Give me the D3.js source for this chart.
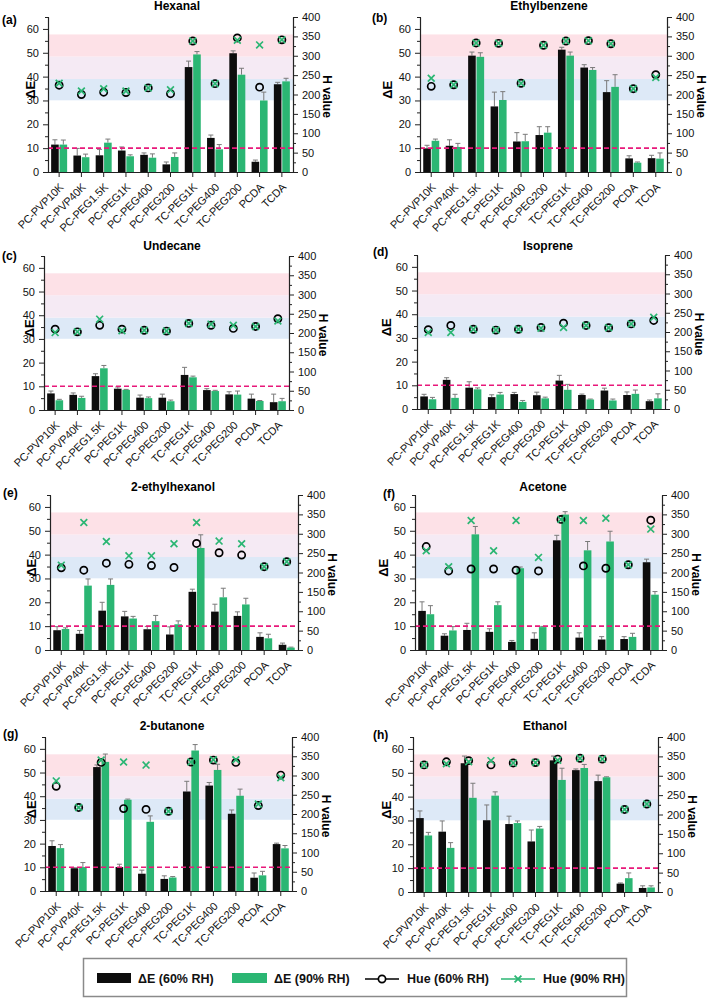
<!DOCTYPE html>
<html><head><meta charset="utf-8">
<script src="https://cdn.jsdelivr.net/npm/d3@7"></script>
<style>
body{margin:0;background:#fff;}
svg{display:block;font-family:"Liberation Sans",Arial,sans-serif;}
</style></head>
<body>
<svg id="chart" width="710" height="999"></svg>
<script>
// ---------- DATA ----------
const categories = ["PC-PVP10K","PC-PVP40K","PC-PEG1.5K","PC-PEG1K","PC-PEG400","PC-PEG200","TC-PEG1K","TC-PEG400","TC-PEG200","PCDA","TCDA"];
const deTicks = [0,10,20,30,40,50,60];
const hTicks = [0,50,100,150,200,250,300,350,400];
const thresholdDE = 10;
const hueBands = [185, 240, 298, 355];

// (a) Hexanal
const hexanalDE60  = [11.5,6.9,7.0,9.0,7.2,3.2,44.0,14.3,49.8,4.3,36.8];
const hexanalErr60 = [2.0,3.0,2.5,1.5,0.8,1.0,2.5,1.2,1.0,0.7,0.8];
const hexanalDE90  = [11.5,6.2,12.3,6.6,6.0,6.3,49.3,9.5,40.8,30.0,38.0];
const hexanalErr90 = [1.9,1.3,1.5,0.6,1.6,1.7,1.2,2.0,2.7,3.5,1.3];
const hexanalH60   = [224,200,206,205,217,202,338,228,346,219,341];
const hexanalH90   = [229,209,215,209,217,212,338,228,340,328,341];
// (b) Ethylbenzene
const ethylbenzeneDE60  = [9.9,11.0,48.8,27.5,12.8,15.5,51.3,43.8,33.5,5.7,5.8];
const ethylbenzeneErr60 = [1.3,2.5,1.5,6.0,3.7,3.5,1.0,1.2,4.8,1.1,1.2];
const ethylbenzeneDE90  = [13.1,10.5,48.3,30.2,12.9,16.5,48.8,42.8,35.7,3.9,5.6];
const ethylbenzeneErr90 = [0.7,1.5,1.7,3.5,2.9,2.5,1.5,1.0,5.1,0.3,2.4];
const ethylbenzeneH60   = [221,225,333,332,229,327,338,339,331,215,251];
const ethylbenzeneH90   = [242,225,333,332,229,327,338,339,331,215,244];
// (c) Undecane
const undecaneDE60  = [7.0,6.4,14.3,9.0,5.2,5.2,14.8,8.4,6.6,4.8,3.3];
const undecaneErr60 = [1.0,0.8,1.0,0.7,1.1,1.5,3.2,0.6,1.1,1.9,3.4];
const undecaneDE90  = [4.1,5.1,17.6,8.5,5.0,3.7,13.8,8.0,6.5,3.8,3.7];
const undecaneErr90 = [0.4,0.7,1.2,0.2,0.5,0.5,0.5,0.3,1.5,0.2,1.2];
const undecaneH60   = [210,203,220,210,207,205,225,220,212,217,237];
const undecaneH90   = [201,203,236,206,207,205,225,223,220,217,231];
// (d) Isoprene
const isopreneDE60  = [5.3,12.3,9.0,5.0,6.3,5.8,12.0,5.9,7.8,5.9,3.3];
const isopreneErr60 = [0.9,0.9,2.5,1.0,0.7,1.3,2.2,0.4,1.0,1.3,0.5];
const isopreneDE90  = [4.1,4.7,8.3,6.1,3.0,4.5,8.1,4.0,3.6,6.4,4.5];
const isopreneErr90 = [0.8,1.5,0.6,0.9,0.6,0.5,2.3,0.2,0.6,1.6,1.9];
const isopreneH60   = [206,217,207,205,207,212,223,217,211,221,230];
const isopreneH90   = [199,199,207,205,207,210,212,217,211,221,238];
// (e) 2-ethylhexanol
const ethylhexanolDE60  = [8.3,6.8,16.5,14.1,8.7,6.5,24.4,16.1,14.3,5.5,2.2];
const ethylhexanolErr60 = [1.5,1.4,3.5,2.1,1.2,3.2,1.1,3.1,1.7,1.7,0.7];
const ethylhexanolDE90  = [8.8,27.0,27.3,13.2,12.1,10.8,42.8,22.1,19.1,4.9,1.0];
const ethylhexanolErr90 = [0.5,2.8,2.5,0.9,2.4,1.4,5.5,3.8,2.6,1.7,0.2];
const ethylhexanolH60   = [212,206,224,221,218,213,275,251,245,215,228];
const ethylhexanolH90   = [219,329,280,243,243,274,329,281,274,215,228];
// (f) Acetone
const acetoneDE60  = [16.4,6.0,8.4,7.6,3.4,4.7,46.0,5.2,4.4,4.6,36.8];
const acetoneErr60 = [3.8,0.8,2.8,1.3,0.6,2.5,2.1,2.0,1.2,1.0,1.3];
const acetoneDE90  = [15.0,8.2,48.5,18.8,34.3,9.6,56.8,41.8,45.5,5.5,23.2];
const acetoneErr90 = [3.6,1.6,3.3,1.4,0.5,0.3,1.2,3.7,4.3,1.5,1.3];
const acetoneH60   = [267,204,209,209,206,204,337,217,211,220,335];
const acetoneH90   = [256,215,334,256,334,239,337,334,340,220,312];
// (g) 2-butanone
const butanoneDE60  = [19.0,9.6,52.3,10.1,7.3,5.1,42.0,44.5,32.6,5.6,19.8];
const butanoneErr60 = [2.2,0.2,0.9,1.2,1.5,1.3,4.3,1.3,1.6,2.0,0.4];
const butanoneDE90  = [18.1,10.1,54.5,38.5,29.2,5.7,59.3,51.1,40.2,6.6,18.0];
const butanoneErr90 = [1.5,1.9,3.3,0.3,2.5,0.4,2.5,2.4,2.8,1.7,1.2];
const butanoneH60   = [272,217,334,214,212,207,335,340,334,222,301];
const butanoneH90   = [286,217,340,335,327,207,335,341,341,226,294];
// (h) Ethanol
const ethanolDE60  = [31.0,25.3,54.0,30.1,28.5,21.2,55.2,51.1,46.5,3.5,1.7];
const ethanolErr60 = [3.0,4.5,3.0,6.4,3.3,4.8,1.8,0.5,2.5,0.3,0.9];
const ethanolDE90  = [23.7,18.5,39.5,40.4,28.9,26.6,47.0,52.0,48.1,5.8,1.9];
const ethanolErr90 = [1.3,2.2,6.1,1.6,0.9,0.9,4.9,1.5,0.2,2.2,0.7];
const ethanolH60   = [328,336,339,328,333,334,343,345,343,213,227];
const ethanolH90   = [328,331,336,339,333,334,340,345,343,213,227];

const panelTitles = ["Hexanal","Ethylbenzene","Undecane","Isoprene","2-ethylhexanol","Acetone","2-butanone","Ethanol"];
const panelLetters = ["(a)","(b)","(c)","(d)","(e)","(f)","(g)","(h)"];
const legendLabels = ["ΔE (60% RH)","ΔE (90% RH)","Hue (60% RH)","Hue (90% RH)"];

// ---------- LAYOUT ----------
const series = [
  [hexanalDE60,hexanalErr60,hexanalDE90,hexanalErr90,hexanalH60,hexanalH90],
  [ethylbenzeneDE60,ethylbenzeneErr60,ethylbenzeneDE90,ethylbenzeneErr90,ethylbenzeneH60,ethylbenzeneH90],
  [undecaneDE60,undecaneErr60,undecaneDE90,undecaneErr90,undecaneH60,undecaneH90],
  [isopreneDE60,isopreneErr60,isopreneDE90,isopreneErr90,isopreneH60,isopreneH90],
  [ethylhexanolDE60,ethylhexanolErr60,ethylhexanolDE90,ethylhexanolErr90,ethylhexanolH60,ethylhexanolH90],
  [acetoneDE60,acetoneErr60,acetoneDE90,acetoneErr90,acetoneH60,acetoneH90],
  [butanoneDE60,butanoneErr60,butanoneDE90,butanoneErr90,butanoneH60,butanoneH90],
  [ethanolDE60,ethanolErr60,ethanolDE90,ethanolErr90,ethanolH60,ethanolH90]
];
const layout = [
  {L:48,R:293,T:17,B:172, tx:177, ty:10, lx:2, ly:24, ax:35},
  {L:420,R:667,T:17,B:172, tx:549, ty:10, lx:372, ly:22, ax:392},
  {L:44,R:289,T:256,B:410, tx:172, ty:250, lx:2, ly:260, ax:34},
  {L:417,R:665,T:255,B:409, tx:548, ty:250, lx:373, ly:256, ax:391},
  {L:50,R:298,T:495,B:650, tx:173, ty:491, lx:3, ly:497, ax:36},
  {L:415,R:662,T:495,B:650, tx:543, ty:491, lx:383, ly:498, ax:388},
  {L:45,R:292,T:737,B:891, tx:172, ty:730, lx:3, ly:738, ax:36},
  {L:413,R:658,T:737,B:892, tx:545, ty:730, lx:373, ly:739, ax:391}
];
const BLACK = "#0d0d0d", GREEN = "#2bb673", ERR = "#7a7a7a", DASH = "#e8187a";
const bandColors = ["#dde9f7","#f5eaf4","#fde1e7"];

const svg = d3.select("#chart");

layout.forEach((p, i) => {
  const [de60, err60, de90, err90, h60, h90] = series[i];
  const g = svg.append("g");
  const x = d3.scaleBand().domain(categories).range([p.L, p.R]).padding(0);
  const yL = d3.scaleLinear().domain([0,65]).range([p.B, p.T]);
  const yR = d3.scaleLinear().domain([0,400]).range([p.B, p.T]);
  const cx = c => x(c) + x.bandwidth()/2;

  for (let k = 0; k < 3; k++) {
    g.append("rect").attr("x", p.L).attr("width", p.R - p.L)
      .attr("y", yR(hueBands[k+1])).attr("height", yR(hueBands[k]) - yR(hueBands[k+1]))
      .attr("fill", bandColors[k]);
  }

  const bw = 7.6, gap = 0.4;
  const drawBars = (vals, errs, color, off) => {
    categories.forEach((c, j) => {
      const bx = cx(c) + off;
      const top = yL(vals[j] + errs[j]);
      g.append("line").attr("x1", bx + bw/2).attr("x2", bx + bw/2)
        .attr("y1", yL(vals[j])).attr("y2", top).attr("stroke", ERR).attr("stroke-width", 1);
      g.append("line").attr("x1", bx + bw/2 - 2.5).attr("x2", bx + bw/2 + 2.5)
        .attr("y1", top).attr("y2", top).attr("stroke", ERR).attr("stroke-width", 1);
      g.append("rect").attr("x", bx).attr("width", bw)
        .attr("y", yL(vals[j])).attr("height", yL(0) - yL(vals[j])).attr("fill", color);
    });
  };
  drawBars(de60, err60, BLACK, -bw - gap);
  drawBars(de90, err90, GREEN, gap);

  g.append("line").attr("x1", p.L).attr("x2", p.R)
    .attr("y1", yL(thresholdDE)).attr("y2", yL(thresholdDE))
    .attr("stroke", DASH).attr("stroke-width", 1.6).attr("stroke-dasharray", "5,3");

  categories.forEach((c, j) => {
    g.append("circle").attr("cx", cx(c)).attr("cy", yR(h60[j])).attr("r", 3.6)
      .attr("fill", "none").attr("stroke", "#000").attr("stroke-width", 1.7);
    const s = 3.4, X = cx(c), Y = yR(h90[j]);
    g.append("path").attr("d", `M${X-s},${Y-s}L${X+s},${Y+s}M${X-s},${Y+s}L${X+s},${Y-s}`)
      .attr("stroke", GREEN).attr("stroke-width", 1.7).attr("fill", "none");
  });

  const styleAxis = sel => {
    sel.select(".domain").attr("stroke", "#222").attr("stroke-width", 1.1);
    sel.selectAll(".tick line").attr("stroke", "#222").attr("stroke-width", 1);
    sel.selectAll("text").attr("font-size", "11px").attr("fill", "#111")
      .attr("font-family", "'Liberation Sans',Arial,sans-serif");
  };
  const lMinor = g.append("g").attr("transform", `translate(${p.L},0)`)
    .call(d3.axisLeft(yL).tickValues(d3.range(5,65,10)).tickSize(3).tickFormat(""));
  styleAxis(lMinor);
  const lAx = g.append("g").attr("transform", `translate(${p.L},0)`)
    .call(d3.axisLeft(yL).tickValues(deTicks).tickSize(5).tickPadding(4).tickSizeOuter(0));
  styleAxis(lAx);
  const rMinor = g.append("g").attr("transform", `translate(${p.R},0)`)
    .call(d3.axisRight(yR).tickValues(d3.range(25,400,50)).tickSize(3).tickFormat(""));
  styleAxis(rMinor);
  const rAx = g.append("g").attr("transform", `translate(${p.R},0)`)
    .call(d3.axisRight(yR).tickValues(hTicks).tickSize(5).tickPadding(4).tickSizeOuter(0));
  styleAxis(rAx);
  const bAx = g.append("g").attr("transform", `translate(0,${p.B})`)
    .call(d3.axisBottom(x).tickSize(5).tickSizeOuter(0).tickFormat(""));
  styleAxis(bAx);

  categories.forEach(c => {
    g.append("text").attr("transform", `translate(${cx(c)+5},${p.B+16}) rotate(-45)`)
      .attr("text-anchor", "end").attr("font-size", "11px").attr("fill", "#111")
      .attr("letter-spacing", "-0.2px").text(c);
  });

  // axis titles
  g.append("text").attr("transform", `translate(${p.ax},${yL(34.5)}) rotate(-90)`)
    .attr("text-anchor", "middle").attr("font-size", "13px").attr("font-weight", "bold").text("ΔE");
  g.append("text").attr("transform", `translate(${p.R+30},${(p.T+p.B)/2 + 2}) rotate(90)`)
    .attr("text-anchor", "middle").attr("font-size", "12px").attr("font-weight", "bold").text("H value");

  g.append("text").attr("x", p.tx).attr("y", p.ty).attr("text-anchor", "middle")
    .attr("font-size", "12px").attr("font-weight", "bold").text(panelTitles[i]);
  g.append("text").attr("x", p.lx).attr("y", p.ly)
    .attr("font-size", "12px").attr("font-weight", "bold").text(panelLetters[i]);
});

// ---------- LEGEND ----------
const lg = svg.append("g");
lg.append("rect").attr("x", 83.5).attr("y", 958.5).attr("width", 543).attr("height", 38)
  .attr("fill", "#fff").attr("stroke", "#8a8a8a").attr("stroke-width", 1.5);
const ly = 978;
lg.append("rect").attr("x", 97).attr("y", ly-5).attr("width", 34).attr("height", 10).attr("fill", BLACK);
lg.append("rect").attr("x", 232).attr("y", ly-5).attr("width", 35).attr("height", 10).attr("fill", GREEN);
lg.append("line").attr("x1", 365).attr("x2", 399).attr("y1", ly+1).attr("y2", ly+1).attr("stroke", "#000").attr("stroke-width", 1.5);
lg.append("circle").attr("cx", 382).attr("cy", ly+1).attr("r", 3.6).attr("fill", "#fff").attr("stroke", "#000").attr("stroke-width", 1.7);
lg.append("line").attr("x1", 501).attr("x2", 535).attr("y1", ly+1).attr("y2", ly+1).attr("stroke", GREEN).attr("stroke-width", 1.5);
lg.append("path").attr("d", `M${518-3.4},${ly+1-3.4}L${518+3.4},${ly+1+3.4}M${518-3.4},${ly+1+3.4}L${518+3.4},${ly+1-3.4}`)
  .attr("stroke", GREEN).attr("stroke-width", 1.8);
const lxs = [138, 274, 407, 543];
legendLabels.forEach((t, k) => {
  lg.append("text").attr("x", lxs[k]).attr("y", ly+4.5).attr("font-size", "12.5px")
    .attr("font-weight", "bold").attr("fill", "#111").text(t);
});
</script>
</body></html>
